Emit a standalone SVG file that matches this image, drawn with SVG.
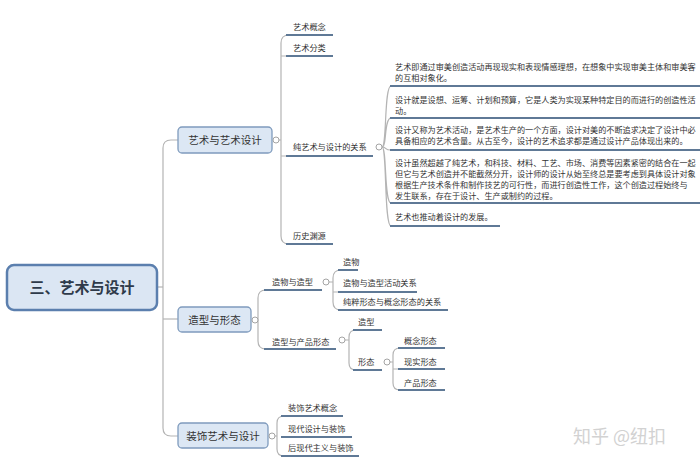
<svg xmlns="http://www.w3.org/2000/svg" width="700" height="470" viewBox="0 0 700 470">
<style>
text{font-family:"Noto Sans CJK SC","Noto Sans",sans-serif;fill:#333}
.t{font-size:8.2px}
.p{font-size:8.15px}
.b{font-size:10.5px;text-anchor:middle}
.r{font-size:15px;font-weight:bold;text-anchor:middle;fill:#2e3a4a}
.ln{fill:none;stroke:#b4b4b4;stroke-width:1.2}
.ul{fill:none;stroke:#5f7996;stroke-width:2}
.node{fill:#dce7f4;stroke:#7f9bbd;stroke-width:1.3}
.c{fill:#fff;stroke:#9a9a9a;stroke-width:0.9}
.wm{font-size:18px;fill:#d2d2d2}
</style>
<rect width="700" height="470" fill="#fff"/>
<g id="connectors">
<path class="ln" d="M157,287 L163,287"/>
<path class="ln" d="M178,140 L171,140 Q163,140 163,148 L163,428 Q163,436 171,436 L178,436"/>
<path class="ln" d="M163,319 L178,319"/>
<path class="ln" d="M279,140 L281,140"/>
<path class="ln" d="M289,35 Q281,35 281,43 L281,236 Q281,244 289,244"/>
<path class="ln" d="M281,56 L287,56 M281,156 L287,156"/>
<path class="ul" d="M286,35 L333,35 M286,56 L333,56 M286,156 L373,156 M286,244 L333,244"/>
<path class="ln" d="M382,147 C387,147 384,86 391,86 M382,147 C387,147 384,118 391,118 M382,147 C387,147 384,150 391,150 M382,147 C387,147 384,203 391,203 M382,147 C387,147 384,226 391,226"/>
<path class="ul" d="M390,86 L700,86 M390,118 L700,118 M390,150 L700,150 M390,203 L700,203 M390,226 L500,226"/>
<path class="ln" d="M255,320 L258,320"/>
<path class="ln" d="M266,290 Q258,290 258,298 L258,341 Q258,349 266,349"/>
<path class="ul" d="M264,290 L322,290 M264,349 L336,349"/>
<path class="ln" d="M329,282 L333,282 M341,270 Q333,270 333,278 L333,302 Q333,310 341,310 M333,292 L339,292"/>
<path class="ul" d="M338,270 L358,270 M338,292 L417,292 M338,310 L448,310"/>
<path class="ln" d="M345,340 L349,340 M356,330 Q349,330 349,337 L349,363 Q349,370 356,370"/>
<path class="ul" d="M353,330 L382,330 M353,370 L382,370"/>
<path class="ln" d="M390,362 L393,362 M400,348 Q393,348 393,355 L393,383 Q393,390 400,390 M393,369 L399,369"/>
<path class="ul" d="M398,348 L445,348 M398,369 L445,369 M398,390 L445,390"/>
<path class="ln" d="M275,436 L277,436 M284,416 Q277,416 277,423 L277,449 Q277,456 284,456"/>
<path class="ul" d="M281,416 L343,416 M281,437 L352,437 M281,456 L359,456"/>
</g>
<g id="root">
<rect x="7" y="265" width="150" height="45" rx="7" fill="#dbe6f3" stroke="#5b7fae" stroke-width="2.5"/>
<text class="r" x="82" y="293">三、艺术与设计</text>
</g>
<g id="n1">
<rect class="node" x="178" y="127" width="94" height="26" rx="4"/>
<text class="b" x="225" y="144">艺术与艺术设计</text>
<circle class="c" cx="276" cy="140" r="3"/>
</g>
<g id="n2">
<rect class="node" x="178" y="307" width="73" height="25" rx="4"/>
<text class="b" x="214.5" y="323.5">造型与形态</text>
<circle class="c" cx="255" cy="320" r="3"/>
</g>
<g id="n3">
<rect class="node" x="178" y="423" width="90" height="25" rx="4"/>
<text class="b" x="223" y="439.5">装饰艺术与设计</text>
<circle class="c" cx="272" cy="436" r="3"/>
</g>
<g id="n1-children">
<text class="t" x="293" y="30">艺术概念</text>
<text class="t" x="293" y="51">艺术分类</text>
<text class="t" x="293" y="150">纯艺术与设计的关系</text>
<circle class="c" cx="379" cy="147" r="3"/>
<text class="t" x="293" y="239">历史渊源</text>
</g>
<g id="n1-notes">
<text class="p" x="395" y="70">艺术即通过审美创造活动再现现实和表现情感理想，在想象中实现审美主体和审美客</text>
<text class="p" x="395" y="81">的互相对象化。</text>
<text class="p" x="395" y="103">设计就是设想、运筹、计划和预算，它是人类为实现某种特定目的而进行的创造性活</text>
<text class="p" x="395" y="114">动。</text>
<text class="p" x="395" y="133">设计又称为艺术活动，是艺术生产的一个方面，设计对美的不断追求决定了设计中必</text>
<text class="p" x="395" y="144">具备相应的艺术含量。从古至今，设计的艺术追求都是通过设计产品体现出来的。</text>
<text class="p" x="395" y="166">设计虽然超越了纯艺术，和科技、材料、工艺、市场、消费等因素紧密的结合在一起</text>
<text class="p" x="395" y="177">但它与艺术创造并不能截然分开，设计师的设计从始至终总是要考虑到具体设计对象</text>
<text class="p" x="395" y="188">根据生产技术条件和制作技艺的可行性，而进行创造性工作，这个创造过程始终与</text>
<text class="p" x="395" y="199">发生联系，存在于设计、生产或制约的过程。</text>
<text class="p" x="395" y="220">艺术也推动着设计的发展。</text>
</g>
<g id="n2-children">
<text class="t" x="272" y="285">造物与造型</text>
<circle class="c" cx="326" cy="282" r="3"/>
<text class="t" x="343" y="265">造物</text>
<text class="t" x="343" y="286">造物与造型活动关系</text>
<text class="t" x="343" y="305">纯粹形态与概念形态的关系</text>
<text class="t" x="272" y="345">造型与产品形态</text>
<circle class="c" cx="342" cy="340" r="3"/>
<text class="t" x="358" y="325">造型</text>
<text class="t" x="358" y="365">形态</text>
<circle class="c" cx="387" cy="362" r="3"/>
<text class="t" x="404" y="344">概念形态</text>
<text class="t" x="404" y="365">现实形态</text>
<text class="t" x="404" y="386">产品形态</text>
</g>
<g id="n3-children">
<text class="t" x="288" y="411">装饰艺术概念</text>
<text class="t" x="288" y="432">现代设计与装饰</text>
<text class="t" x="288" y="451">后现代主义与装饰</text>
</g>
<text class="wm" x="573" y="443">知乎 @纽扣</text>
</svg>
